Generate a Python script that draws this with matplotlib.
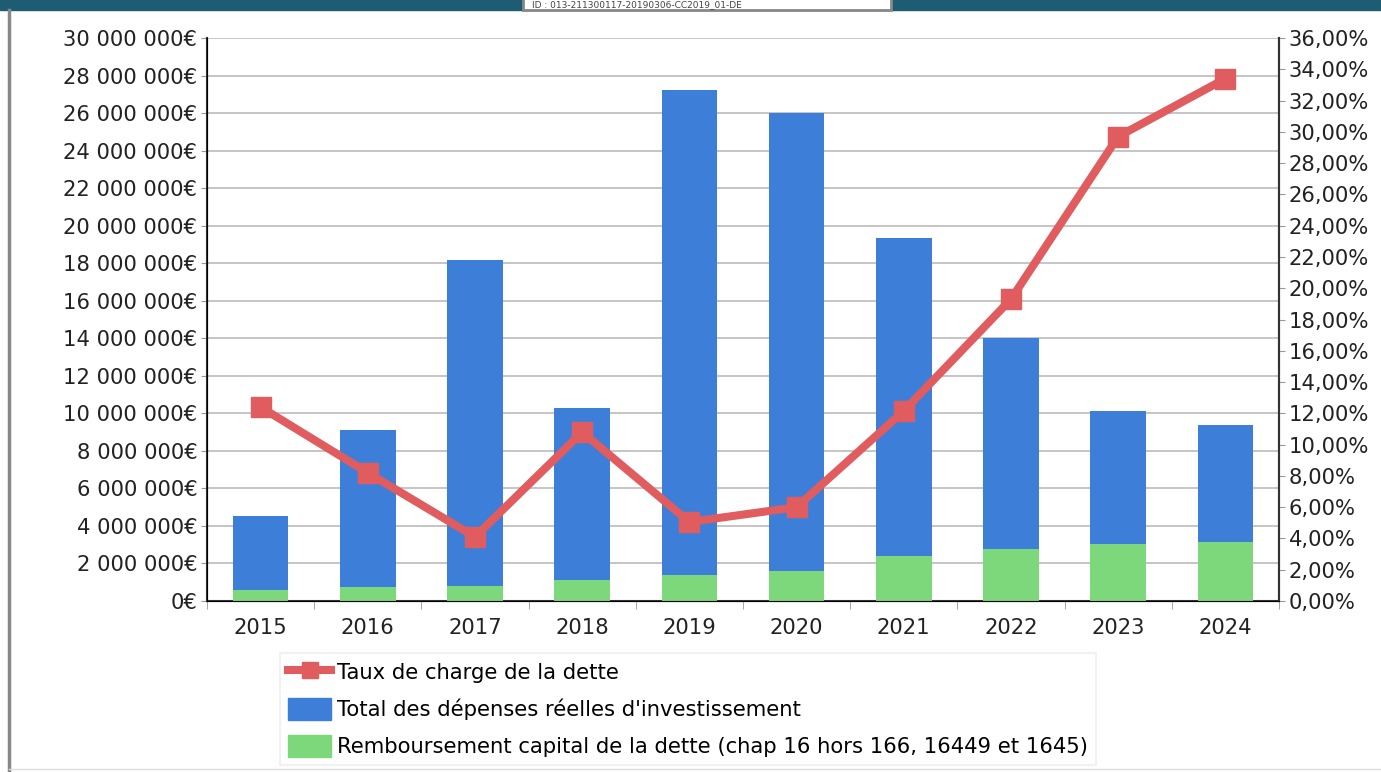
import numpy as np
import matplotlib.pyplot as plt
from matplotlib.patches import Rectangle
from matplotlib.lines import Line2D
from matplotlib.ticker import FuncFormatter

annees = ["2015", "2016", "2017", "2018", "2019", "2020", "2021", "2022", "2023", "2024"]
depenses = [4.53e6, 9.11e6, 18.17e6, 10.28e6, 27.22e6, 26.0e6, 19.34e6, 14.01e6, 10.12e6, 9.38e6]
rembours = [0.59e6, 0.75e6, 0.80e6, 1.12e6, 1.39e6, 1.60e6, 2.40e6, 2.77e6, 3.04e6, 3.14e6]
taux = [12.4, 8.2, 4.1, 10.8, 5.05, 6.0, 12.15, 19.3, 29.7, 33.4]

bleu = "#3d7fd8"
vert = "#7dd87b"
rouge = "#e05c5e"
taille = 15.2

def euros(v, pos):
    return "{:,.0f}€".format(v).replace(",", " ")

def pourcent(v, pos):
    return "{:.2f}%".format(v).replace(".", ",")

fig = plt.figure(figsize=(13.81, 7.72), dpi=100)
ax = fig.add_axes([207/1381, 1-601/772, 1072/1381, 563/772])
x = np.arange(len(annees))

ax.bar(x, depenses, width=0.52, color=bleu, zorder=2)
ax.bar(x, rembours, width=0.52, color=vert, zorder=3)
ax.set_xlim(-0.5, len(annees)-0.5)
ax.set_ylim(0, 30e6)
ax.set_yticks(np.arange(0, 30e6+1, 2e6))
ax.yaxis.set_major_formatter(FuncFormatter(euros))
ax.set_xticks(x)
ax.set_xticklabels(annees)
ax.set_xticks(np.arange(-0.5, len(annees), 1), minor=True)
ax.tick_params(axis="x", which="major", length=0, pad=12, labelsize=taille, colors="#222222")
ax.tick_params(axis="x", which="minor", length=6, color="#999999", direction="out")
ax.tick_params(axis="y", length=4, color="#999999", labelsize=taille, labelcolor="#222222", pad=3)
ax.grid(axis="y", color="#bbbbbb", linewidth=1.2, zorder=0)
ax.set_axisbelow(True)
ax.spines["top"].set_visible(False)
for s in ["left", "bottom", "right"]:
    ax.spines[s].set_color("#333333")
    ax.spines[s].set_linewidth(1.5)

ax2 = ax.twinx()
ax2.plot(x, taux, color=rouge, linewidth=5.8, marker="s", markersize=15, zorder=5)
ax2.set_ylim(0, 36)
ax2.set_yticks(np.arange(0, 37, 2))
ax2.yaxis.set_major_formatter(FuncFormatter(pourcent))
ax2.tick_params(axis="y", length=4, color="#999999", labelsize=taille, labelcolor="#222222", pad=3)
ax2.spines["top"].set_visible(False)
ax2.spines["right"].set_color("#333333")
ax2.spines["right"].set_linewidth(1.5)

poignees = [
    Line2D([], [], color=rouge, linewidth=5.8, marker="s", markersize=12),
    Rectangle((0, 0), 1, 1, color=bleu),
    Rectangle((0, 0), 1, 1, color=vert),
]
textes = [
    "Taux de charge de la dette",
    "Total des dépenses réelles d'investissement",
    "Remboursement capital de la dette (chap 16 hors 166, 16449 et 1645)",
]
leg = fig.legend(poignees, textes, loc="upper left", bbox_to_anchor=(280/1381, 1-653/772),
                 borderaxespad=0, fontsize=taille, frameon=True, fancybox=False,
                 handlelength=2.0, handleheight=1.2, handletextpad=0.3, labelspacing=0.7,
                 borderpad=0.4)
leg.get_frame().set_edgecolor("#eeeeee")
leg.get_frame().set_linewidth(1.5)

# bandeau du haut et cadre
fig.patches.append(Rectangle((0, 1-10/772), 1, 10/772, transform=fig.transFigure,
                             color="#1d5c72", zorder=0))
fig.patches.append(Rectangle((523/1381, 1-10/772), 368/1381, 14/772, transform=fig.transFigure,
                             facecolor="white", edgecolor="#888888", linewidth=2, zorder=1))
fig.text(532/1381, 1-5/772, "ID : 013-211300117-20190306-CC2019_01-DE", fontsize=6.5,
         color="#444444", va="center")
fig.lines.append(Line2D([9/1381, 9/1381], [0, 1-10/772], transform=fig.transFigure,
                        color="#888888", linewidth=2.5))
fig.lines.append(Line2D([9/1381, 1], [1-769/772, 1-769/772], transform=fig.transFigure,
                        color="#dddddd", linewidth=1))

fig.savefig("out.png", dpi=100)
